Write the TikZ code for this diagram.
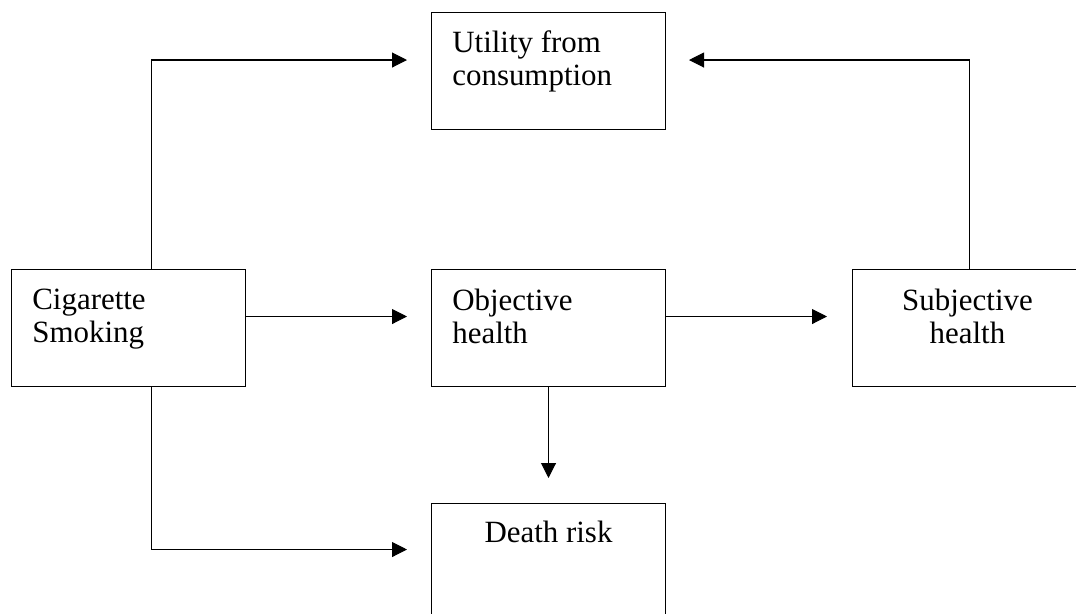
\documentclass[tikz,border=0pt]{standalone}
\usepackage{fontspec}
\setmainfont{Liberation Serif}
\usetikzlibrary{arrows.meta}

\begin{document}
\begin{tikzpicture}[
        x=0.02cm, y=-0.02cm,
        box/.style={draw, line width=0.6pt, minimum width=4.68cm,
                    minimum height=2.34cm, inner sep=0pt, anchor=north west},
        txt/.style={inner sep=0pt, align=#1,
                    font=\fontsize{17.6}{18.8}\selectfont},
        arrow/.style={line width=0.6pt,
                      -{Triangle[length=0.3cm, width=0.3cm]}},
    ]
        \useasboundingbox (0,0) rectangle (1076,614);

        % boxes
        \node[box] (util)  at (431,12)  {};
        \node[box] (smoke) at (11,269)  {};
        \node[box] (obj)   at (431,269) {};
        \node[box] (subj)  at (852,269) {};
        \node[box] (death) at (431,503) {};

        % texts
        \node[txt=left, anchor=north west] (utiltxt)
            at ([xshift=0.42cm, yshift=-0.36cm]util.north west)
            {Utility from\\consumption};
        \node[txt=left, anchor=north west] (smoketxt)
            at ([xshift=0.42cm, yshift=-0.4cm]smoke.north west)
            {Cigarette\\Smoking};
        \node[txt=left, anchor=north west] (objtxt)
            at ([xshift=0.42cm, yshift=-0.4cm]obj.north west)
            {Objective\\health};
        \node[txt=center, anchor=north] (subjtxt)
            at ([xshift=-0.04cm, yshift=-0.4cm]subj.north)
            {Subjective\\health};
        \node[txt=center, anchor=north] (deathtxt)
            at ([yshift=-0.36cm]death.north)
            {Death risk};

        % connectors
        \draw[arrow] ([xshift=0.46cm]smoke.north)
            |- ([xshift=-0.48cm, yshift=0.22cm]util.west);
        \draw[arrow] (subj.north)
            |- ([xshift=0.46cm, yshift=0.22cm]util.east);
        \draw[arrow] ([yshift=0.23cm]smoke.east)
            -- ([xshift=-0.48cm, yshift=0.23cm]obj.west);
        \draw[arrow] ([yshift=0.23cm]obj.east)
            -- ([xshift=-0.5cm, yshift=0.23cm]subj.west);
        \draw[arrow] (obj.south) -- ([yshift=0.5cm]death.north);
        \draw[arrow] ([xshift=0.46cm]smoke.south)
            |- ([xshift=-0.48cm, yshift=0.25cm]death.west);
    \end{tikzpicture}
\end{document}
